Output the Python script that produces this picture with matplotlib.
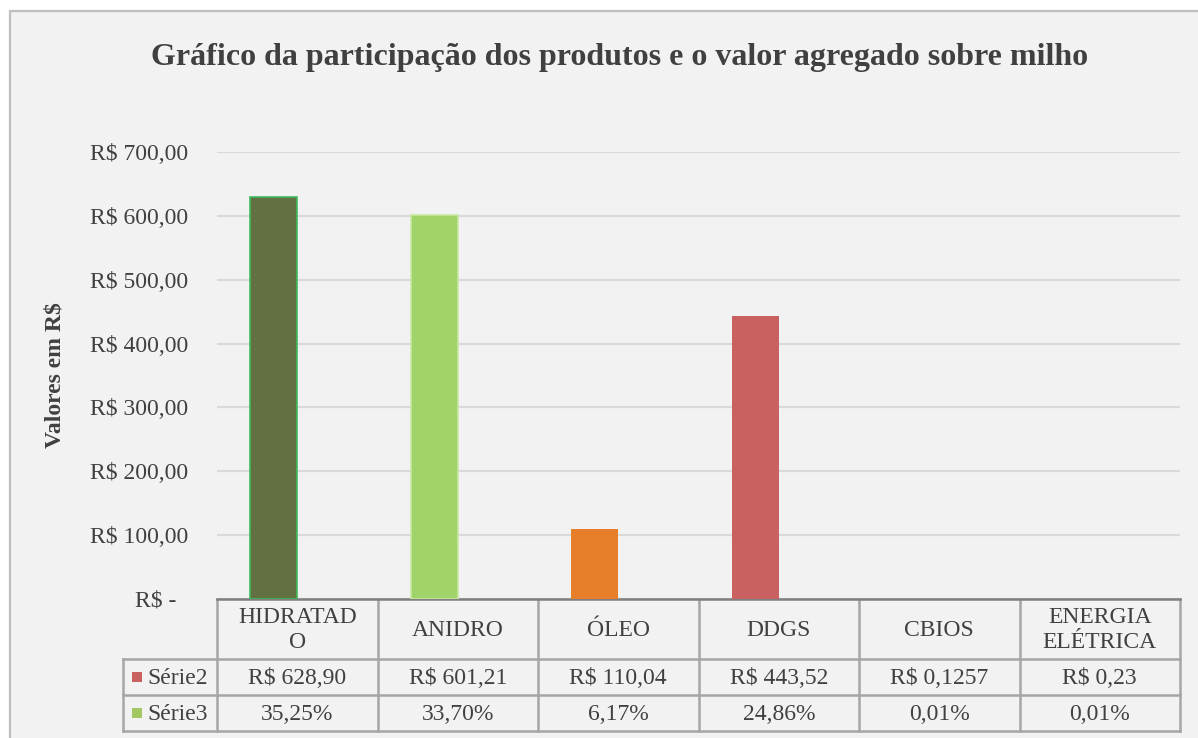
import numpy as np
import matplotlib.pyplot as plt
from matplotlib.patches import Rectangle

# produtos e valores (R$) / participação
categorias = ['HIDRATADO', 'ANIDRO', 'ÓLEO', 'DDGS', 'CBIOS', 'ENERGIA ELÉTRICA']
cabecalho = ['HIDRATAD\nO', 'ANIDRO', 'ÓLEO', 'DDGS', 'CBIOS', 'ENERGIA\nELÉTRICA']
serie2 = [628.90, 601.21, 110.04, 443.52, 0.1257, 0.23]
serie3 = [0.3525, 0.3370, 0.0617, 0.2486, 0.0001, 0.0001]
serie2_txt = ['R$ 628,90', 'R$ 601,21', 'R$ 110,04', 'R$ 443,52', 'R$ 0,1257', 'R$ 0,23']
serie3_txt = ['35,25%', '33,70%', '6,17%', '24,86%', '0,01%', '0,01%']
yticks = [0, 100, 200, 300, 400, 500, 600, 700]

cores = ['#637142', '#a0d468', '#e67e2a', '#c96160', '#c96160', '#c96160']
bordas = ['#3dbb5c', '#c8e8a4', '#e67e2a', '#c96160', '#c96160', '#c96160']
espessuras = [1.2, 1.2, 0, 0, 0, 0]
cor_s2 = '#c96160'
cor_s3 = '#a3c864'
texto = '#404040'
fonte = 'Liberation Serif'

W, H = 1198, 738
fig = plt.figure(figsize=(W / 100, H / 100), dpi=100, facecolor='white')

# camada de fundo em pixels
ov = fig.add_axes([0, 0, 1, 1], zorder=0)
ov.set_xlim(0, W)
ov.set_ylim(H, 0)
ov.axis('off')
ov.add_patch(Rectangle((10, 11), W + 20, H + 20, facecolor='#f2f2f2',
                       edgecolor='#bfbfbf', linewidth=1.6))

# area do grafico
x0, x1 = 217, 1180
ytop, ybot = 152, 599
ax = fig.add_axes([x0 / W, 1 - ybot / H, (x1 - x0) / W, (ybot - ytop) / H], zorder=2)
ax.patch.set_alpha(0)

n = len(categorias)
x = np.arange(n)
w = 0.293
ax.bar(x - w / 2, serie2, width=w, color=cores, edgecolor=bordas, linewidth=espessuras, zorder=3)
ax.bar(x + w / 2, serie3, width=w, color=cor_s3, linewidth=0, zorder=3)

ax.set_xlim(-0.5, n - 0.5)
ax.set_ylim(0, 700)
ax.set_yticks(yticks)
ax.set_yticklabels(['R$ -  '] + ['R$ %d,00' % v for v in yticks[1:]],
                   fontfamily=fonte, fontsize=17, color=texto)
ax.tick_params(axis='y', length=0, pad=21)
ax.set_xticks([])
ax.grid(axis='y', color='#d9d9d9', linewidth=1.6, zorder=0)
for s in ['top', 'right', 'left']:
    ax.spines[s].set_visible(False)
ax.spines['bottom'].set_color('#7f7f7f')
ax.spines['bottom'].set_linewidth(1.8)

fig.text(620 / W, 1 - 58 / H, 'Gráfico da participação dos produtos e o valor agregado sobre milho',
         ha='center', va='center', fontfamily=fonte, fontsize=23, fontweight='bold', color=texto)
fig.text(55 / W, 1 - 375 / H, 'Valores em R$', rotation=90, ha='center', va='center',
         fontfamily=fonte, fontsize=17, fontweight='bold', color=texto)

# tabela de dados
lc = '#a6a6a6'
lw = 1.8
col_w = (x1 - x0) / n
r0, r1, r2, r3 = 599, 659, 695, 731
leg_x = 123
for i in range(n + 1):
    xc = x0 + i * col_w
    ov.plot([xc, xc], [r0, r3], color=lc, lw=lw)
ov.plot([leg_x, leg_x], [r1, r3], color=lc, lw=lw)
ov.plot([leg_x, x1], [r1, r1], color=lc, lw=lw)
ov.plot([leg_x, x1], [r2, r2], color=lc, lw=lw)
ov.plot([leg_x, x1], [r3, r3], color=lc, lw=lw)

for i in range(n):
    xc = x0 + (i + 0.5) * col_w
    ov.text(xc, (r0 + r1) / 2 + 1, cabecalho[i], ha='center', va='center', fontfamily=fonte,
            fontsize=17, color=texto, linespacing=1.25)
    ov.text(xc, (r1 + r2) / 2 + 1, serie2_txt[i], ha='center', va='center', fontfamily=fonte,
            fontsize=17, color=texto)
    ov.text(xc, (r2 + r3) / 2 + 1, serie3_txt[i], ha='center', va='center', fontfamily=fonte,
            fontsize=17, color=texto)

for yc, cor, nome in [((r1 + r2) / 2, cor_s2, 'Série2'), ((r2 + r3) / 2, cor_s3, 'Série3')]:
    ov.add_patch(Rectangle((132, yc - 5), 10, 10, facecolor=cor, edgecolor='none'))
    ov.text(147, yc + 1, nome, ha='left', va='center', fontfamily=fonte, fontsize=17, color=texto)

fig.savefig('out.png', dpi=100, facecolor=fig.get_facecolor())
